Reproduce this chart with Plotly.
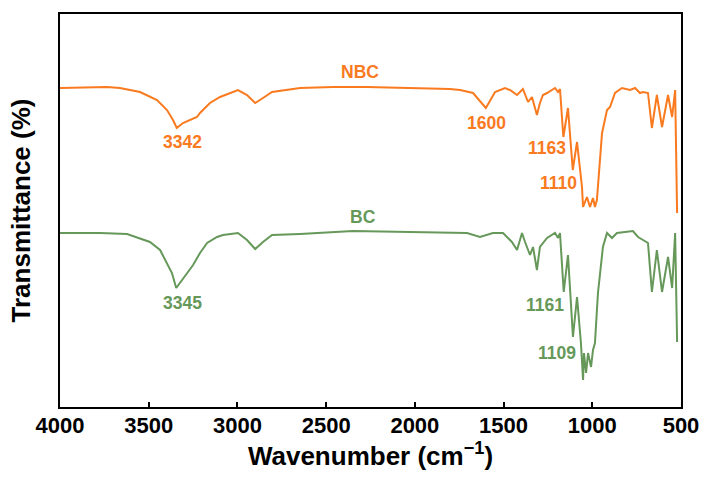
import plotly.graph_objects as go

# Wavenumber (cm^-1) and transmittance (arbitrary units, offset)
nbc_wn = [4000, 3775, 3735, 3662, 3549, 3453, 3397, 3363, 3342, 3307, 3267, 3228, 3211, 3155,
          3098, 3025, 2997, 2946, 2900, 2856,
          2805, 2647, 2461, 2270, 1802, 1745, 1672, 1600, 1548, 1492, 1464, 1424, 1391, 1362,
          1340, 1312, 1295, 1278, 1255, 1210, 1193, 1182, 1163, 1137, 1110, 1086, 1058, 1052,
          1030, 1013, 996, 985, 974, 945, 917, 900, 872, 833, 787, 759, 731, 714, 686, 664,
          636, 607, 573, 550, 533, 522]
nbc_t = [319, 319.3, 320, 319, 315, 307, 297, 287, 279, 284, 287, 290, 294, 304,
         310, 315, 317, 312, 304, 309,
         315, 319, 320, 320, 318, 317, 314, 299, 315, 319, 317, 312, 318, 305,
         310, 292, 304, 312, 314, 319, 315, 318, 270, 299, 237, 265, 220, 200,
         210, 200, 209, 200, 207, 274, 297, 300, 314, 319, 317, 319, 314, 315, 314, 279,
         312, 280, 312, 290, 317, 194]

bc_wn = [4000, 3775, 3622, 3493, 3436, 3397, 3369, 3345, 3312, 3279, 3250, 3211, 3171, 3115,
         3081, 2997, 2946, 2900, 2856,
         2805, 2647, 2349, 1802, 1706, 1633, 1560, 1503, 1453, 1424, 1396, 1379, 1351, 1334,
         1312, 1295, 1255, 1210, 1193, 1182, 1161, 1137, 1109, 1086, 1064, 1052, 1047, 1035,
         1024, 1007, 996, 985, 968, 940, 917, 889, 861, 771, 742, 714, 686, 664, 636, 607,
         573, 550, 533, 522]
bc_t = [174, 174, 173, 165, 157, 144, 134, 119, 127, 134, 142, 154, 164, 170,
        172, 174, 167, 158, 165,
        172, 173, 176, 174, 174, 170, 174, 174, 165, 157, 174, 165, 152, 160,
        137, 160, 169, 174, 169, 174, 115, 152, 70, 110, 64, 27, 54, 34,
        54, 40, 57, 64, 114, 160, 174, 169, 174, 176, 170, 167, 164, 115, 157, 115,
        150, 119, 174, 65]

x_ticks = [4000, 3500, 3000, 2500, 2000, 1500, 1000, 500]

ORANGE = "#F97A1F"
GREEN = "#66985A"
FONT = "Liberation Sans, Arial, sans-serif"

fig = go.Figure()
fig.add_trace(go.Scatter(x=nbc_wn, y=nbc_t, mode="lines", name="NBC",
                         line=dict(color=ORANGE, width=2)))
fig.add_trace(go.Scatter(x=bc_wn, y=bc_t, mode="lines", name="BC",
                         line=dict(color=GREEN, width=2)))

labels = [
    ("NBC", 2309, 335, ORANGE), ("3342", 3312, 265, ORANGE), ("1600", 1599, 284, ORANGE),
    ("1163", 1255, 259, ORANGE), ("1110", 1193, 224, ORANGE),
    ("BC", 2292, 190, GREEN), ("3345", 3312, 104, GREEN), ("1161", 1267, 102, GREEN),
    ("1109", 1199, 54, GREEN),
]
for txt, x, y, c in labels:
    fig.add_annotation(x=x, y=y, text=txt, showarrow=False, xref="x", yref="y",
                       font=dict(family=FONT, size=17.5, color=c, weight="bold"))

fig.update_layout(
    width=705, height=477,
    margin=dict(l=60, r=24, t=14, b=70),
    paper_bgcolor="white", plot_bgcolor="white",
    showlegend=False,
    font=dict(family=FONT, color="black"),
)
fig.update_xaxes(
    range=[4000, 500], tickvals=x_ticks,
    ticks="inside", ticklen=5, tickwidth=1.5, tickcolor="black",
    ticklabelstandoff=-2,
    showline=True, linecolor="black", linewidth=2, mirror=True,
    showgrid=False, zeroline=False, automargin=False,
    tickfont=dict(family=FONT, size=22, color="black", weight="bold"),
    title=dict(text="Wavenumber (cm<sup>−1</sup>)", standoff=7,
               font=dict(family=FONT, size=26, color="black", weight="bold")),
)
fig.update_yaxes(
    range=[0, 393], showticklabels=False, ticks="",
    showline=True, linecolor="black", linewidth=2, mirror=True,
    showgrid=False, zeroline=False, automargin=False,
    title=dict(text="Transmittance (%)", standoff=20,
               font=dict(family=FONT, size=26, color="black", weight="bold")),
)
fig.write_html("out.html", config={"displayModeBar": False},
               post_script="document.body.style.margin='0';document.body.style.overflow='hidden';")
